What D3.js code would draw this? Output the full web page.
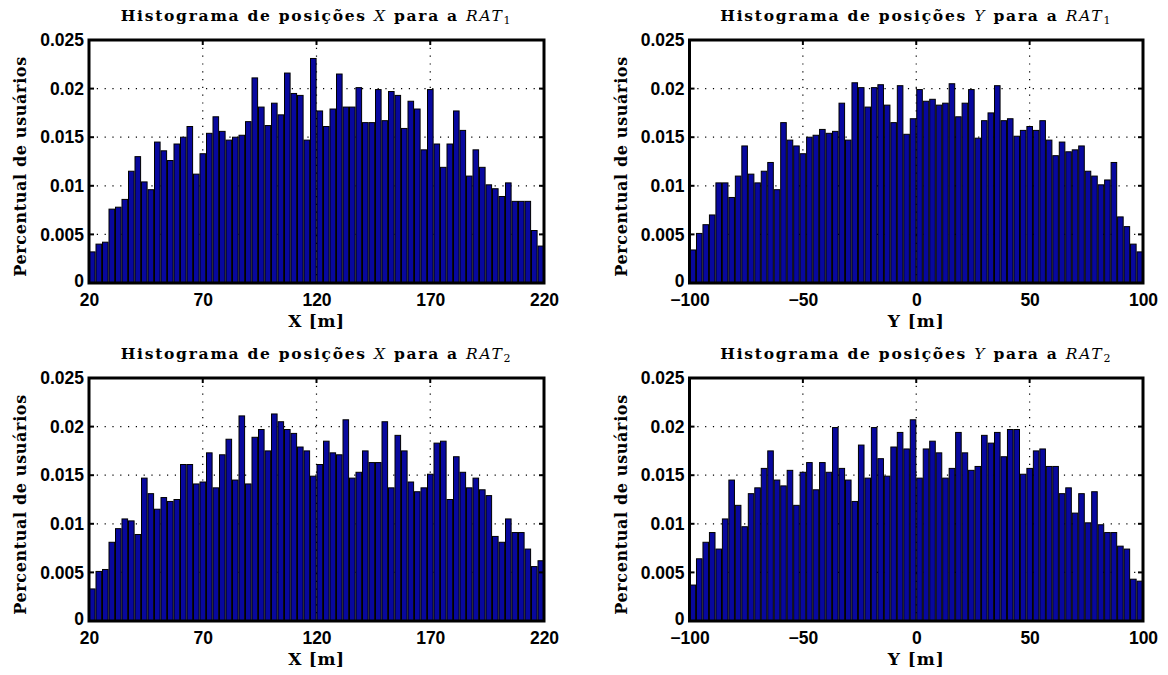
<!DOCTYPE html>
<html><head><meta charset="utf-8">
<script src="https://cdn.jsdelivr.net/npm/d3@7"></script>
<style>body{margin:0;background:#fff}</style>
</head><body><svg id="c" width="1168" height="675" xmlns="http://www.w3.org/2000/svg"></svg>
<script>
// Histogram values (fraction of users per bin, 70 bins each)
const xRat1 = [0.0032,0.0040,0.0042,0.0076,0.0078,0.0086,0.0115,0.0130,0.0104,0.0096,
  0.0145,0.0136,0.0126,0.0143,0.0150,0.0161,0.0112,0.0133,0.0154,0.0171,
  0.0156,0.0147,0.0150,0.0152,0.0166,0.0211,0.0181,0.0162,0.0185,0.0173,
  0.0216,0.0195,0.0193,0.0147,0.0231,0.0177,0.0161,0.0179,0.0215,0.0181,
  0.0181,0.0201,0.0165,0.0165,0.0199,0.0167,0.0197,0.0193,0.0159,0.0187,
  0.0179,0.0137,0.0199,0.0143,0.0119,0.0143,0.0177,0.0157,0.0110,0.0137,
  0.0119,0.0101,0.0097,0.0089,0.0103,0.0084,0.0084,0.0084,0.0054,0.0038];
const yRat1 = [0.0034,0.0051,0.0060,0.0070,0.0103,0.0103,0.0088,0.0110,0.0141,0.0112,
  0.0103,0.0115,0.0124,0.0096,0.0165,0.0147,0.0141,0.0133,0.0150,0.0152,
  0.0158,0.0154,0.0156,0.0185,0.0147,0.0206,0.0201,0.0181,0.0201,0.0204,
  0.0183,0.0165,0.0203,0.0153,0.0169,0.0199,0.0187,0.0189,0.0183,0.0185,
  0.0205,0.0171,0.0185,0.0199,0.0149,0.0167,0.0175,0.0203,0.0167,0.0169,
  0.0151,0.0157,0.0161,0.0157,0.0167,0.0147,0.0131,0.0145,0.0135,0.0137,
  0.0141,0.0115,0.0110,0.0101,0.0106,0.0124,0.0068,0.0058,0.0040,0.0032];
const xRat2 = [0.0033,0.0051,0.0053,0.0081,0.0095,0.0105,0.0103,0.0089,0.0147,0.0131,
  0.0115,0.0127,0.0123,0.0125,0.0161,0.0161,0.0141,0.0143,0.0173,0.0137,
  0.0171,0.0187,0.0145,0.0211,0.0141,0.0189,0.0197,0.0175,0.0213,0.0205,
  0.0197,0.0193,0.0179,0.0175,0.0149,0.0161,0.0185,0.0173,0.0171,0.0207,
  0.0147,0.0153,0.0175,0.0163,0.0163,0.0205,0.0137,0.0191,0.0175,0.0143,
  0.0133,0.0137,0.0151,0.0183,0.0185,0.0125,0.0169,0.0153,0.0137,0.0147,
  0.0135,0.0129,0.0087,0.0081,0.0105,0.0091,0.0091,0.0074,0.0056,0.0062];
const yRat2 = [0.0037,0.0064,0.0081,0.0091,0.0074,0.0105,0.0145,0.0119,0.0097,0.0131,
  0.0137,0.0157,0.0175,0.0145,0.0139,0.0155,0.0119,0.0153,0.0163,0.0135,
  0.0163,0.0153,0.0199,0.0157,0.0145,0.0123,0.0181,0.0147,0.0199,0.0167,
  0.0149,0.0179,0.0194,0.0177,0.0207,0.0147,0.0177,0.0185,0.0173,0.0147,
  0.0157,0.0194,0.0173,0.0155,0.0159,0.0191,0.0183,0.0194,0.0169,0.0197,
  0.0197,0.0151,0.0157,0.0175,0.0177,0.0159,0.0159,0.0131,0.0137,0.0111,
  0.0131,0.0101,0.0133,0.0099,0.0091,0.0091,0.0077,0.0074,0.0043,0.0041];

const xTicks = [20,70,120,170,220];
const xTickLabels = ["20","70","120","170","220"];
const yPosTicks = [-100,-50,0,50,100];
const yPosTickLabels = ["\u2212100","\u221250","0","50","100"];
const pctTicks = [0,0.005,0.01,0.015,0.02,0.025];
const pctTickLabels = ["0","0.005","0.01","0.015","0.02","0.025"];
const axisLabels = ["X [m]","Y [m]"];
const yLabel = "Percentual de usu\u00e1rios";

const panels = [
  {vals:xRat1, dom:[20,220], ticks:xTicks, labels:xTickLabels, v:"X", rat:"1", xl:axisLabels[0], L:89, R:544, T:40, B:283},
  {vals:yRat1, dom:[-100,100], ticks:yPosTicks, labels:yPosTickLabels, v:"Y", rat:"1", xl:axisLabels[1], L:689.5, R:1143, T:40, B:283},
  {vals:xRat2, dom:[20,220], ticks:xTicks, labels:xTickLabels, v:"X", rat:"2", xl:axisLabels[0], L:89, R:544, T:378, B:621},
  {vals:yRat2, dom:[-100,100], ticks:yPosTicks, labels:yPosTickLabels, v:"Y", rat:"2", xl:axisLabels[1], L:689.5, R:1143, T:378, B:621}
];

const svg = d3.select("#c");
const serif = "'DejaVu Serif', serif";
const sans = "'Liberation Sans', Arial, sans-serif";

function fitWidth(sel, target) {
  const node = sel.node();
  const len = node.getComputedTextLength();
  const n = node.textContent.length;
  if (n > 1) sel.attr("letter-spacing", ((target - len) / (n - 1)).toFixed(2));
}

panels.forEach(p => {
  const x = d3.scaleLinear().domain(p.dom).range([p.L, p.R]);
  const y = d3.scaleLinear().domain([0, 0.025]).range([p.B, p.T]);
  const g = svg.append("g");
  const n = p.vals.length;
  const bw = (p.dom[1]-p.dom[0])/n;

  // grid
  g.append("g").selectAll("line").data(p.ticks.slice(1,-1)).join("line")
    .attr("x1", d=>x(d)).attr("x2", d=>x(d)).attr("y1", p.T).attr("y2", p.B)
    .attr("stroke","#000").attr("stroke-width",1.2).attr("stroke-dasharray","1.2,6.6");
  g.append("g").selectAll("line").data(pctTicks.slice(1,-1)).join("line")
    .attr("y1", d=>y(d)).attr("y2", d=>y(d)).attr("x1", p.L).attr("x2", p.R)
    .attr("stroke","#000").attr("stroke-width",1.2).attr("stroke-dasharray","1.2,6.6");

  // bars
  g.append("g").selectAll("rect").data(p.vals).join("rect")
    .attr("x", (d,i)=>x(p.dom[0]+i*bw)+0.5)
    .attr("width", (d,i)=>x(p.dom[0]+(i+1)*bw)-x(p.dom[0]+i*bw)-0.9)
    .attr("y", d=>y(d)).attr("height", d=>p.B-y(d))
    .attr("fill","#08089e").attr("stroke","#000").attr("stroke-width",1);

  // inner ticks
  const tl = 5;
  g.append("g").selectAll("line").data(p.ticks).join("line")
    .attr("x1", d=>x(d)).attr("x2", d=>x(d)).attr("y1", p.T).attr("y2", p.T+tl)
    .attr("stroke","#000").attr("stroke-width",2);
  g.append("g").selectAll("line").data(pctTicks).join("line")
    .attr("y1", d=>y(d)).attr("y2", d=>y(d)).attr("x1", p.R).attr("x2", p.R-tl)
    .attr("stroke","#000").attr("stroke-width",2);
  g.append("g").selectAll("line").data(pctTicks).join("line")
    .attr("y1", d=>y(d)).attr("y2", d=>y(d)).attr("x1", p.L).attr("x2", p.L+tl)
    .attr("stroke","#000").attr("stroke-width",2);

  // frame
  g.append("rect").attr("x",p.L).attr("y",p.T).attr("width",p.R-p.L).attr("height",p.B-p.T)
    .attr("fill","none").attr("stroke","#000").attr("stroke-width",3);

  // tick labels
  const ax = g.append("g").attr("transform",`translate(0,${p.B})`)
    .call(d3.axisBottom(x).tickValues(p.ticks).tickFormat((d,i)=>p.labels[i]).tickSize(0).tickPadding(11));
  ax.select(".domain").remove();
  ax.selectAll("text").attr("font-family",sans).attr("font-weight","bold").attr("font-size",17.5).attr("fill","#000");
  const ay = g.append("g").attr("transform",`translate(${p.L},0)`)
    .call(d3.axisLeft(y).tickValues(pctTicks).tickFormat((d,i)=>pctTickLabels[i]).tickSize(0).tickPadding(5));
  ay.select(".domain").remove();
  ay.selectAll("text").attr("font-family",sans).attr("font-weight","bold").attr("font-size",17.5).attr("fill","#000")
    .attr("dy", (d,i)=> i===0 ? "0.2em" : "0.32em");

  const cx = (p.L+p.R)/2;
  // title
  const t = g.append("text").attr("x",cx).attr("y",p.T-19).attr("text-anchor","middle")
    .attr("font-family",serif).attr("font-weight","bold").attr("font-size",15.5).attr("fill","#000");
  t.append("tspan").text("Histograma de posi\u00e7\u00f5es ");
  t.append("tspan").attr("font-style","italic").attr("font-weight","normal").text(p.v);
  t.append("tspan").text(" para a ");
  t.append("tspan").attr("font-style","italic").attr("font-weight","normal").text("RAT");
  t.append("tspan").attr("font-size",11).attr("font-weight","normal").attr("dy",3).text(p.rat);
  fitWidth(t, 390);

  // x label
  const xl = g.append("text").attr("x",cx).attr("y",p.B+44).attr("text-anchor","middle")
    .attr("font-family",serif).attr("font-weight","bold").attr("font-size",17).attr("fill","#000").text(p.xl);
  fitWidth(xl, 56);
  // y label
  const yl = g.append("text").attr("transform",`translate(${p.L-63},${(p.T+p.B)/2+5}) rotate(-90)`)
    .attr("text-anchor","middle").attr("font-family",serif).attr("font-weight","bold").attr("font-size",16).attr("fill","#000").text(yLabel);
  fitWidth(yl, 220);
});
</script></body></html>
